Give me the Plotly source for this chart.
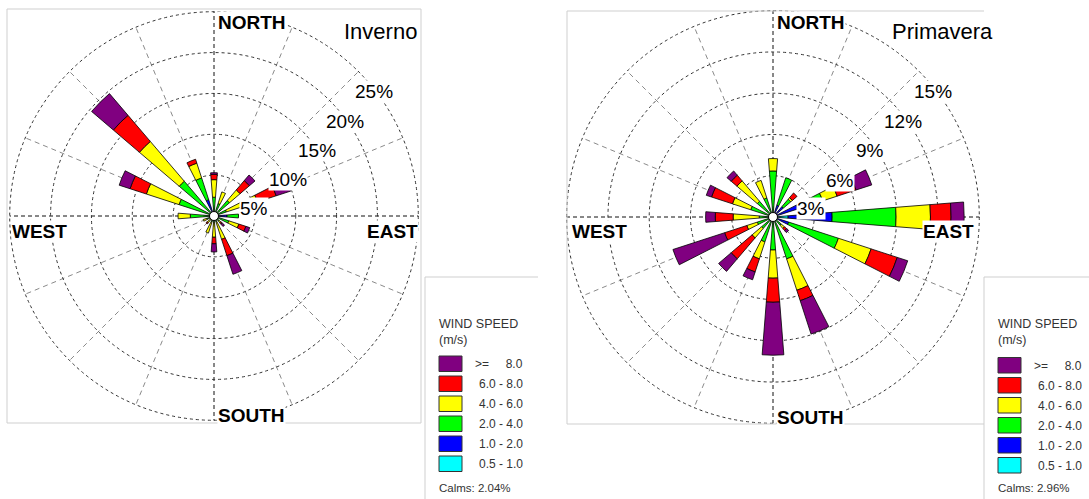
import math
import plotly.graph_objects as go

W, H = 1089, 499

# 16 compass sectors, bearings in degrees clockwise from north
directions = ["N", "NNE", "NE", "ENE", "E", "ESE", "SE", "SSE",
              "S", "SSW", "SW", "WSW", "W", "WNW", "NW", "NNW"]
bearings = [i * 22.5 for i in range(16)]

speed_classes = ["0.5 - 1.0", "1.0 - 2.0", "2.0 - 4.0", "4.0 - 6.0", "6.0 - 8.0", ">= 8.0"]
class_colors = ["#00ffff", "#0000ff", "#00ff00", "#ffff00", "#ff0000", "#800080"]

# Inverno: frequency (%) of each speed class per direction
inv_05_10 = [0, 0, 0, 0, 0, 0, 0, 0, 0, 0, 0, 0, 0, 0, 0, 0]
inv_10_20 = [0, 0, 0, 0, 1.6, 0, 0, 0, 0, 0, 0, 0, 0, 0, 0, 2.1]
inv_20_40 = [2.3, 1.6, 2.5, 1.6, 1.4, 1.9, 0.8, 0.8, 0.8, 0.8, 0.6, 0.9, 2.9, 4.5, 5.6, 2.8]
inv_40_60 = [2.15, 1.5, 1.7, 4.0, 0, 1.3, 0.3, 2.2, 1.8, 1.4, 0.5, 0.5, 1.5, 4.2, 6.4, 1.9]
inv_60_80 = [0.65, 0, 1.5, 2.4, 0, 0.9, 0.2, 2.1, 0.8, 0, 0.2, 0, 0, 2.1, 4.2, 0.5]
inv_80 = [0.2, 0, 0.9, 1.9, 0, 0.5, 0.4, 2.4, 1.0, 0, 0, 0, 0, 1.4, 3.5, 0]
inv_calms = 2.04

# Primavera: frequency (%) of each speed class per direction
pri_05_10 = [0, 0, 0, 0, 1.1, 0, 0, 0, 0, 0, 0, 0, 0, 0, 0, 0]
pri_10_20 = [0, 0.9, 1.0, 1.9, 3.2, 1.2, 0.3, 0, 0, 0, 0, 0, 0, 0, 0, 0]
pri_20_40 = [3.35, 2.1, 0.7, 1.9, 4.65, 3.8, 0.5, 3.2, 2.4, 1.9, 1.1, 1.2, 1.0, 1.7, 1.5, 1.45]
pri_40_60 = [0.9, 0, 0.15, 1.1, 2.5, 2.5, 0.3, 2.4, 2.05, 1.3, 0.9, 0.8, 1.9, 1.4, 1.95, 1.35]
pri_60_80 = [0, 0, 0.45, 1.45, 1.5, 2.0, 0.2, 0.8, 1.75, 1.0, 2.0, 1.7, 1.3, 1.6, 0.55, 0]
pri_80 = [0, 0, 0, 1.2, 0.95, 0.8, 0.2, 2.55, 3.85, 0.6, 1.2, 3.95, 0.7, 0.4, 0.4, 0]
pri_calms = 2.96

inv_rings = [5, 10, 15, 20, 25]
pri_rings = [3, 6, 9, 12, 15]

FONT = "Liberation Sans, Arial, sans-serif"
RING_COLOR = "#333333"
RING_DASH = "3px,3px"


def px(x):
    return x / W


def py(y):
    return 1 - y / H


panels = [
    dict(
        key="polar", title="Inverno", center=(214, 216), radius=204.3,
        series=[inv_05_10, inv_10_20, inv_20_40, inv_40_60, inv_60_80, inv_80],
        rings=inv_rings, calms=inv_calms,
        ring_label_xy=[(253.5, 208), (287.5, 179.5), (316.5, 150), (345, 121.5), (374, 91.5)],
        title_xy=(380.5, 32),
        cardinal=[("NORTH", 217, 22, "left"), ("WEST", 11, 231.5, "left"),
                  ("EAST", 419, 231.5, "right"), ("SOUTH", 217, 415.5, "left")],
        legend_x=439, legend_y=356,
    ),
    dict(
        key="polar2", title="Primavera", center=(773, 217), radius=206.3,
        series=[pri_05_10, pri_10_20, pri_20_40, pri_40_60, pri_60_80, pri_80],
        rings=pri_rings, calms=pri_calms,
        ring_label_xy=[(811, 208.5), (840, 180), (870, 150.5), (903, 121), (933, 92)],
        title_xy=(942.5, 32),
        cardinal=[("NORTH", 776, 22, "left"), ("WEST", 571, 231.5, "left"),
                  ("EAST", 975, 231.5, "right"), ("SOUTH", 776, 417.5, "left")],
        legend_x=998, legend_y=357.5,
    ),
]

fig = go.Figure()
shapes = []
annotations = []
layout_polars = {}

for p in panels:
    cx, cy = p["center"]
    R = p["radius"]
    rmax = p["rings"][-1]

    # stacked speed-class bars
    for cls, col, vals in zip(speed_classes, class_colors, p["series"]):
        fig.add_trace(go.Barpolar(
            r=[v if v > 0 else None for v in vals],
            theta=bearings,
            width=[9] * len(bearings),
            name=cls,
            marker=dict(color=col, line=dict(color="black", width=0.8)),
            customdata=directions,
            hovertemplate="%{customdata}: %{r}%<extra>" + cls + "</extra>",
            subplot=p["key"],
            showlegend=False,
        ))

    layout_polars[p["key"]] = dict(
        domain=dict(x=[px(cx - R), px(cx + R)], y=[py(cy + R), py(cy - R)]),
        bgcolor="rgba(0,0,0,0)",
        barmode="stack",
        radialaxis=dict(
            range=[0, rmax], tickvals=p["rings"][:-1], showticklabels=False,
            ticks="", showline=False, showgrid=True, gridcolor=RING_COLOR,
            gridwidth=1, griddash=RING_DASH,
        ),
        angularaxis=dict(
            rotation=90, direction="clockwise", showticklabels=False, ticks="",
            showline=False, showgrid=False,
        ),
    )

    # outer ring
    shapes.append(dict(
        type="circle", xref="paper", yref="paper", layer="below",
        xsizemode="pixel", ysizemode="pixel", xanchor=px(cx), yanchor=py(cy),
        x0=-R, x1=R, y0=-R, y1=R,
        line=dict(color=RING_COLOR, width=1, dash=RING_DASH),
    ))

    # direction spokes, drawn beneath the bars
    for b in bearings:
        cardinal = b % 90 == 0
        shapes.append(dict(
            type="line", xref="paper", yref="paper", layer="below",
            xsizemode="pixel", ysizemode="pixel", xanchor=px(cx), yanchor=py(cy),
            x0=0, y0=0,
            x1=R * math.sin(math.radians(b)), y1=R * math.cos(math.radians(b)),
            line=dict(color="#111111" if cardinal else "#8a8a8a", width=1,
                      dash="4px,3px" if cardinal else "5px,4px"),
        ))

    # calm circle at the centre
    shapes.append(dict(
        type="circle", xref="paper", yref="paper", layer="above",
        xsizemode="pixel", ysizemode="pixel", xanchor=px(cx), yanchor=py(cy),
        x0=-4.5, x1=4.5, y0=-4.5, y1=4.5,
        fillcolor="white", line=dict(color="black", width=1),
    ))

    # ring labels
    for val, (lx, ly) in zip(p["rings"], p["ring_label_xy"]):
        annotations.append(dict(
            text=f"{val}%", x=px(lx), y=py(ly), xref="paper", yref="paper",
            xanchor="center", yanchor="middle", showarrow=False,
            font=dict(family=FONT, size=19, color="black"),
            bgcolor="white", borderpad=0,
        ))

    # compass labels
    for txt, lx, ly, anc in p["cardinal"]:
        annotations.append(dict(
            text=f"<b>{txt}</b>", x=px(lx), y=py(ly), xref="paper", yref="paper",
            xanchor=anc, yanchor="middle", showarrow=False,
            font=dict(family=FONT, size=19, color="black"),
            bgcolor="white", borderpad=0,
        ))

    tx, ty = p["title_xy"]
    annotations.append(dict(
        text=p["title"], x=px(tx), y=py(ty), xref="paper", yref="paper",
        xanchor="center", yanchor="middle", showarrow=False,
        font=dict(family=FONT, size=22, color="black"),
    ))

    # legend block
    lx0, ly0 = p["legend_x"], p["legend_y"]
    hfont = dict(family=FONT, size=12.5, color="#333333")
    lfont = dict(family=FONT, size=12, color="#333333")
    cfont = dict(family=FONT, size=11.5, color="#333333")
    annotations.append(dict(text="WIND SPEED", x=px(lx0 - 1), y=py(324), xref="paper",
                            yref="paper", xanchor="left", yanchor="middle",
                            showarrow=False, font=hfont, borderpad=0))
    annotations.append(dict(text="(m/s)", x=px(lx0 - 1), y=py(340), xref="paper",
                            yref="paper", xanchor="left", yanchor="middle",
                            showarrow=False, font=hfont, borderpad=0))
    legend_order = list(range(len(speed_classes)))[::-1]
    for k, idx in enumerate(legend_order):
        top = ly0 + 20 * k
        shapes.append(dict(
            type="rect", xref="paper", yref="paper", layer="above",
            x0=px(lx0), x1=px(lx0 + 23), y0=py(top + 15.5), y1=py(top),
            fillcolor=class_colors[idx], line=dict(color="#333333", width=1),
        ))
        label = speed_classes[idx]
        if label.startswith(">="):
            label = ">=" + "\u00a0" * 5 + "8.0"
        annotations.append(dict(
            text=label, x=px(lx0 + 85), y=py(top + 8), xref="paper", yref="paper",
            xanchor="right", yanchor="middle", showarrow=False, font=lfont,
            borderpad=0,
        ))
    annotations.append(dict(
        text=f"Calms: {p['calms']:.2f}%", x=px(lx0 - 1), y=py(488), xref="paper",
        yref="paper", xanchor="left", yanchor="middle", showarrow=False, font=cfont,
        borderpad=0,
    ))

# panel and legend frames
frame = dict(color="#cfcfcf", width=1)


def hline(x0, x1, y):
    shapes.append(dict(type="line", xref="paper", yref="paper", layer="below",
                       x0=px(x0), x1=px(x1), y0=py(y), y1=py(y), line=frame))


def vline(x, y0, y1):
    shapes.append(dict(type="line", xref="paper", yref="paper", layer="below",
                       x0=px(x), x1=px(x), y0=py(y0), y1=py(y1), line=frame))


hline(7, 421, 9)
hline(7, 421, 423)
vline(7, 9, 423)
vline(421, 9, 423)
vline(567, 11, 424)
hline(567, 984, 11)
hline(567, 984, 424)
vline(425, 277, 499)
hline(425, 538, 277)
vline(984, 277, 499)
hline(984, 1089, 277)

fig.update_layout(
    width=W, height=H,
    margin=dict(l=0, r=0, t=0, b=0),
    paper_bgcolor="white",
    plot_bgcolor="white",
    showlegend=False,
    shapes=shapes,
    annotations=annotations,
    **layout_polars,
)

fig.write_html("out.html")
